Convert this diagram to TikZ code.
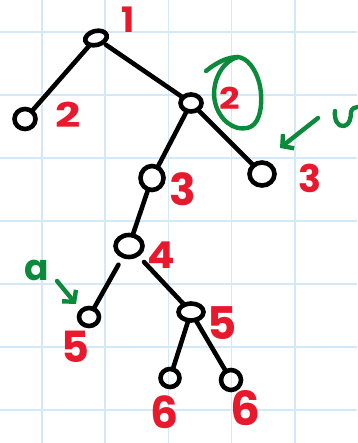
\documentclass[tikz,border=0pt]{standalone}
\usepackage{fontspec}
\newfontfamily\hand{Poppins}
\usetikzlibrary{shapes.geometric,arrows.meta}
\definecolor{gridblue}{HTML}{D3E9F8}
\definecolor{inkred}{HTML}{E8192C}
\definecolor{inkgreen}{HTML}{0B8A3C}
\tikzset{
  treenode/.style={draw=black, ellipse, line width=4.6pt, inner sep=0pt, outer sep=0pt},
  branch/.style={line width=4.6pt, line cap=round, black},
  deptlabel/.style={text=inkred, inner sep=0pt, font=\hand\bfseries\fontsize{#1}{#1}\selectfont},
  deptlabel/.default=36,
  greenink/.style={draw=inkgreen, line width=4.4pt, line cap=round, line join=round},
  greenarrow/.style={greenink, -{Straight Barb[length=8pt,width=18pt,line width=4.4pt]}}
}
\begin{document}
\begin{tikzpicture}[x=1pt,y=-1pt]
  \useasboundingbox (0,0) rectangle (357,443);
  \fill[white] (0,0) rectangle (357,443);
  % squared paper
  \foreach \gx in {42,105.2,168.4,231.6,294.8} \draw[gridblue, line width=1.5pt] (\gx,0) -- (\gx,443);
  \foreach \gy in {32,95,158,221,284,347,410} \draw[gridblue, line width=1.5pt] (0,\gy) -- (357,\gy);

  % tree nodes
  \node[treenode, minimum width=22pt, minimum height=14pt, rotate=15] (root) at (96,38) {};
  \node[treenode, minimum width=21pt, minimum height=20pt] (n2L) at (25,119) {};
  \node[treenode, minimum width=21pt, minimum height=17pt] (n2R) at (191,103) {};
  \node[treenode, minimum width=23pt, minimum height=24pt] (n3M) at (152,178) {};
  \node[treenode, minimum width=25pt, minimum height=23pt] (n3R) at (262,174) {};
  \node[treenode, minimum width=27pt, minimum height=22pt] (n4) at (129,246) {};
  \node[treenode, minimum width=20pt, minimum height=18pt] (n5L) at (89,317) {};
  \node[treenode, minimum width=25pt, minimum height=17pt] (n5R) at (191,312) {};
  \node[treenode, minimum width=19pt, minimum height=18pt] (n6L) at (170,378) {};
  \node[treenode, minimum width=20pt, minimum height=20pt] (n6R) at (231,380) {};

  % branches
  \draw[branch] (root) -- (n2L);
  \draw[branch, shorten <=4pt] (root) -- (n2R);
  \draw[branch] (n2R) -- (n3M);
  \draw[branch] (n2R) -- (n3R);
  \draw[branch] (n3M) -- (n4);
  \draw[branch, shorten <=10pt] (n4) -- (n5L);
  \draw[branch, shorten <=10pt] (n4) -- (n5R);
  \draw[branch] (n5R) -- (n6L);
  \draw[branch] (n5R) -- (n6R);

  % depth labels
  \node[deptlabel=35] (d1) at (128,20) {1};
  \node[deptlabel=34, xscale=1.3] (d2L) at (68,115) {2};
  \node[deptlabel=30, xscale=1.2] (d2R) at (230,98) {2};
  \node[deptlabel=44] (d3M) at (183,189) {3};
  \node[deptlabel=38] (d3R) at (310,178) {3};
  \node[deptlabel=37, xscale=1.1] (d4) at (161,255) {4};
  \node[deptlabel=43] (d5L) at (75,347) {5};
  \node[deptlabel=45] (d5R) at (222,323) {5};
  \node[deptlabel=44] (d6L) at (165,412) {6};
  \node[deptlabel=47] (d6R) at (245,408) {6};

  % green annotations
  \draw[greenink] (206,71) .. controls (217,62) and (228,57) .. (238,57);
  \draw[greenink] (238,57) .. controls (220,62) and (211,85) .. (215,102)
    .. controls (219,120) and (234,131) .. (247,128)
    .. controls (263,125) and (263,96) .. (259,82)
    .. controls (255,68) and (247,58) .. (238,57);
  \coordinate (bTail) at (318,118);
  \coordinate (bTip) at (280,148);
  \draw[greenarrow] (bTail) -- (bTip);
  \draw[greenink] (335,111) .. controls (334,120) and (338,127) .. (344,126)
    .. controls (350,125) and (351,117) .. (351,112)
    .. controls (352,108) and (355,107) .. (358,107);
  \node[text=inkgreen, inner sep=0pt, font=\hand\bfseries\fontsize{36}{36}\selectfont] (aLbl) at (37,270) {a};
  \coordinate (aTail) at (57,281);
  \coordinate (aTip) at (76,304);
  \draw[greenarrow] (aTail) -- (aTip);
\end{tikzpicture}
\end{document}
